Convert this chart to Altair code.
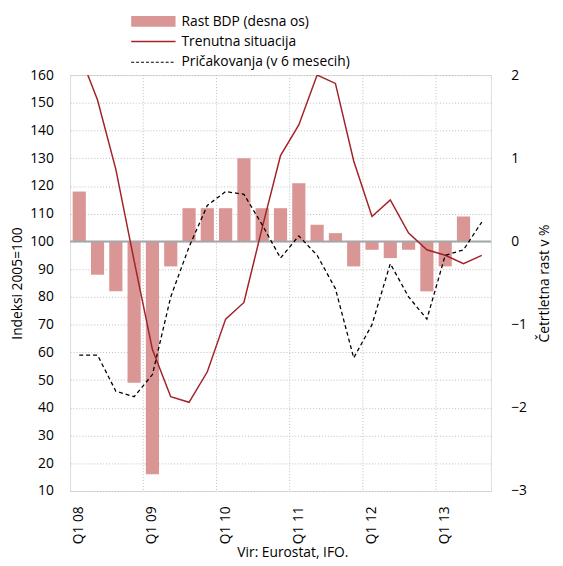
import altair as alt
import pandas as pd

quarters = [
    "Q1 08", "Q2 08", "Q3 08", "Q4 08",
    "Q1 09", "Q2 09", "Q3 09", "Q4 09",
    "Q1 10", "Q2 10", "Q3 10", "Q4 10",
    "Q1 11", "Q2 11", "Q3 11", "Q4 11",
    "Q1 12", "Q2 12", "Q3 12", "Q4 12",
    "Q1 13", "Q2 13", "Q3 13",
]
gdp_growth = [0.6, -0.4, -0.6, -1.7, -2.8, -0.3, 0.4, 0.4, 0.4, 1.0, 0.4, 0.4,
              0.7, 0.2, 0.1, -0.3, -0.1, -0.2, -0.1, -0.6, -0.3, 0.3, None]
current = [168, 151, 126, 93, 61, 44, 42, 53, 72, 78, 105, 131,
           142, 160, 157, 129, 109, 115, 103, 97, 95, 92, 95]
expectations = [59, 59, 46, 44, 52, 80, 98, 113, 118, 117, 106, 94,
                102, 95, 83, 58, 70, 92, 80, 72, 95, 97, 107]
year_starts = ["Q1 09", "Q1 10", "Q1 11", "Q1 12", "Q1 13"]
left_ticks = list(range(10, 161, 10))
right_ticks = [-3, -2, -1, 0, 1, 2]

FONT = "Open Sans"
BAR = "#d99694"
RED = "#a3222a"
GRID = "#bdbdbd"

df = pd.DataFrame({"q": quarters, "gdp": gdp_growth, "cur": current, "exp": expectations})
grid_df = pd.DataFrame({"q": year_starts})
one = pd.DataFrame({"a": [0]})

x_enc = alt.X(
    "q:N", sort=quarters,
    scale=alt.Scale(paddingInner=0, paddingOuter=0),
    axis=alt.Axis(
        title=None, labelAngle=270, ticks=False, domain=False, grid=False,
        labelPadding=15, labelFontSize=14, labelFont=FONT, labelColor="#000",
        labelExpr="indexof(datum.label, 'Q1') == 0 ? datum.label : ''",
    ),
)

year_grid = alt.Chart(grid_df).mark_rule(
    color=GRID, strokeDash=[1, 2], strokeWidth=1
).encode(x=alt.X("q:N", sort=quarters, bandPosition=0,
                 scale=alt.Scale(paddingInner=0, paddingOuter=0)))

bars = alt.Chart(df).mark_bar(color=BAR, width=alt.RelativeBandSize(0.72)).encode(
    x=x_enc,
    y=alt.Y(
        "gdp:Q",
        scale=alt.Scale(domain=[-3, 2], nice=False, zero=True),
        axis=alt.Axis(
            orient="right", values=right_ticks, format="d",
            title="Četrtletna rast v %",
            grid=False, ticks=False, domain=False, labelPadding=20,
            labelOverlap=False, labelFlush=False,
            labelFontSize=14, labelFont=FONT, labelColor="#000",
            titleFontSize=14, titleFont=FONT, titleFontWeight="normal",
            titleColor="#000", titleAngle=270, titleX=54, titleY=211,
            titleBaseline="middle", titleAlign="center",
        ),
    ),
)

zero_rule = alt.Chart(one).mark_rule(color="#a6a6a6", strokeWidth=2).encode(
    y=alt.datum(0)
)

bar_layer = alt.layer(year_grid, bars, zero_rule)

left_axis = alt.Axis(
    orient="left", values=left_ticks, format="d", title="Indeksi 2005=100",
    grid=True, gridDash=[1, 2], gridColor=GRID, gridWidth=1,
    ticks=False, domain=False, labelPadding=17,
    labelOverlap=False, labelFlush=False,
    labelFontSize=14, labelFont=FONT, labelColor="#000",
    titleFontSize=14, titleFont=FONT, titleFontWeight="normal",
    titleColor="#000", titleAngle=270, titleX=-53, titleY=211,
    titleBaseline="middle", titleAlign="center",
)
left_scale = alt.Scale(domain=[10, 160], nice=False, zero=False)

cur_line = alt.Chart(df).mark_line(color=RED, strokeWidth=1.5, clip=True).encode(
    x=x_enc, y=alt.Y("cur:Q", scale=left_scale, axis=left_axis, title="Indeksi 2005=100")
)
exp_line = alt.Chart(df).mark_line(
    color="black", strokeWidth=1.3, strokeDash=[4, 3], clip=True
).encode(x=x_enc, y=alt.Y("exp:Q", scale=left_scale, axis=left_axis, title="Indeksi 2005=100"))

line_layer = alt.layer(cur_line, exp_line)

# legend (manual, above the plot)
leg_bar = alt.Chart(one).mark_rect(color=BAR).encode(
    x=alt.value(62), x2=alt.value(107), y=alt.value(-60), y2=alt.value(-49)
)
leg_red = alt.Chart(one).mark_rule(color=RED, strokeWidth=1.5).encode(
    x=alt.value(62), x2=alt.value(107), y=alt.value(-34)
)
leg_dash = alt.Chart(one).mark_rule(color="black", strokeWidth=1.2, strokeDash=[3, 2]).encode(
    x=alt.value(62), x2=alt.value(107), y=alt.value(-13)
)


def leg_text(label, y):
    return alt.Chart(one).mark_text(
        align="left", baseline="middle", fontSize=14, font=FONT, color="#000"
    ).encode(x=alt.value(113), y=alt.value(y), text=alt.value(label))


source = alt.Chart(one).mark_text(
    align="center", baseline="middle", fontSize=14, font=FONT, color="#000"
).encode(x=alt.value(226), y=alt.value(485), text=alt.value("Vir: Eurostat, IFO."))

chart = alt.layer(
    bar_layer, line_layer,
    leg_bar, leg_red, leg_dash,
    leg_text("Rast BDP (desna os)", -54),
    leg_text("Trenutna situacija", -34),
    leg_text("Pričakovanja (v 6 mesecih)", -13),
    source,
).resolve_scale(y="independent").properties(
    width=427, height=422,
    autosize=alt.AutoSizeParams(type="none"),
    padding={"left": 63, "top": 64, "right": 65, "bottom": 70},
).configure_view(stroke="#bfbfbf", strokeWidth=1.5).configure(background="white")

chart.save("out.html", embed_options={"renderer": "svg", "actions": False})
